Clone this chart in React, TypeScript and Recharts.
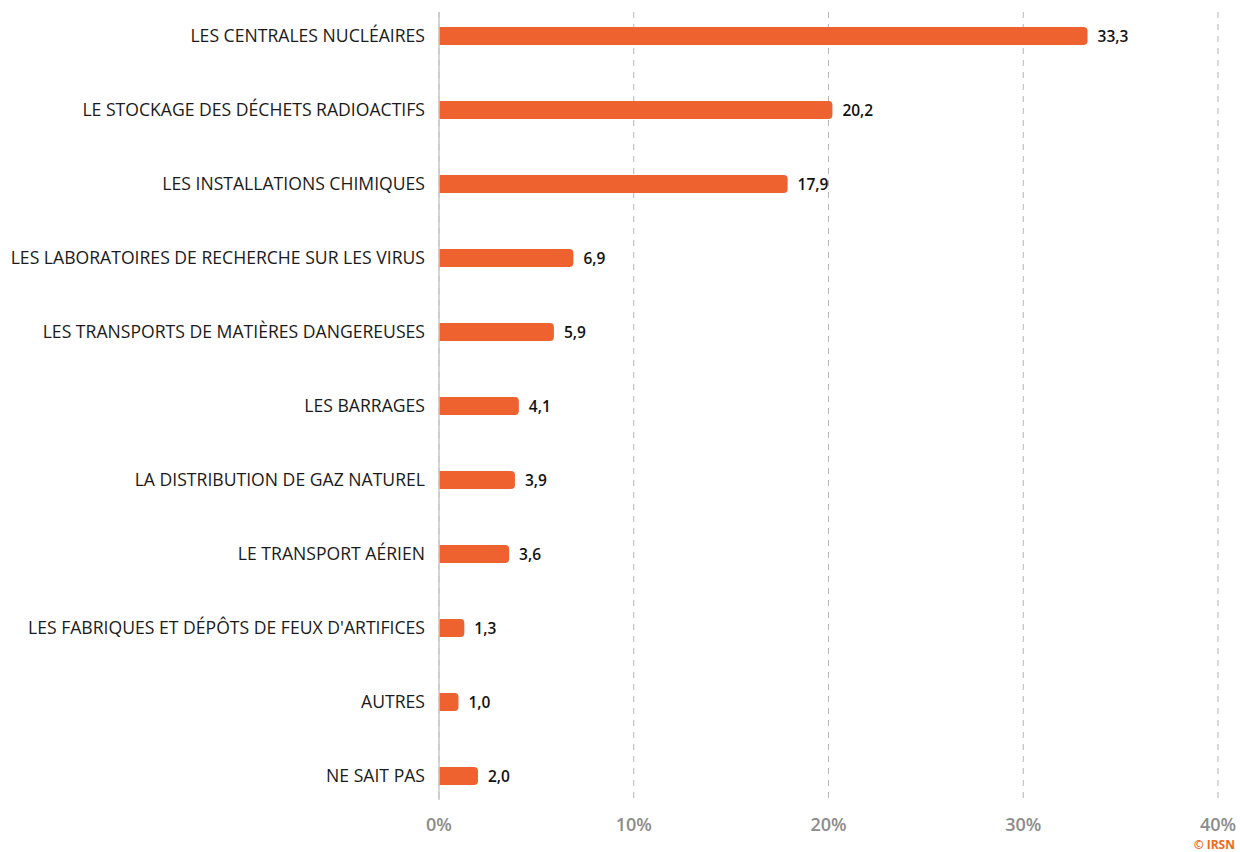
import React from "react";
import { BarChart, Bar, XAxis, YAxis, CartesianGrid, LabelList } from "recharts";

const categories = [
  "LES CENTRALES NUCLÉAIRES",
  "LE STOCKAGE DES DÉCHETS RADIOACTIFS",
  "LES INSTALLATIONS CHIMIQUES",
  "LES LABORATOIRES DE RECHERCHE SUR LES VIRUS",
  "LES TRANSPORTS DE MATIÈRES DANGEREUSES",
  "LES BARRAGES",
  "LA DISTRIBUTION DE GAZ NATUREL",
  "LE TRANSPORT AÉRIEN",
  "LES FABRIQUES ET DÉPÔTS DE FEUX D'ARTIFICES",
  "AUTRES",
  "NE SAIT PAS",
];
const values = [33.3, 20.2, 17.9, 6.9, 5.9, 4.1, 3.9, 3.6, 1.3, 1.0, 2.0];
const xTicks = [0, 10, 20, 30, 40];

const data = categories.map((c, i) => ({ name: c, value: values[i] }));

const FONT = "'Open Sans', 'Noto Sans', sans-serif";

export default function App() {
  return (
    <div style={{ position: "absolute", left: 0, top: 0, width: 1240, height: 852, background: "#fff", fontFamily: FONT, overflow: "hidden" }}>
      <BarChart
        width={1240}
        height={852}
        data={data}
        layout="vertical"
        margin={{ top: 12, right: 22, bottom: 22, left: 0 }}
      >
        <CartesianGrid horizontal={false} vertical={true} stroke="#b5b5b5" strokeDasharray="6 6" />
        <XAxis
          type="number"
          domain={[0, 40]}
          ticks={xTicks}
          tickFormatter={(v: number) => `${v}%`}
          axisLine={false}
          tickLine={false}
          tickMargin={12}
          height={30}
          tick={{ fill: "#8c8c8c", fontSize: 18, fontWeight: 600, fontFamily: FONT }}
        />
        <YAxis
          type="category"
          dataKey="name"
          width={439}
          axisLine={{ stroke: "#c8c8c8", strokeWidth: 1.5 }}
          tickLine={false}
          tickMargin={8}
          padding={{ top: -13, bottom: -13 }}
          interval={0}
          tick={{ fill: "#1a1a1a", fontSize: 17.6, fontFamily: FONT }}
        />
        <Bar dataKey="value" fill="#ee6230" barSize={18} radius={[0, 4, 4, 0]} isAnimationActive={false}>
          <LabelList
            dataKey="value"
            position="right"
            offset={10}
            formatter={(v: number) => v.toFixed(1).replace(".", ",")}
            style={{ fill: "#111", fontSize: 15.5, fontWeight: 600, fontFamily: FONT }}
          />
        </Bar>
      </BarChart>
      <div
        style={{
          position: "absolute",
          right: 5,
          top: 838,
          lineHeight: "14px",
          color: "#ee6a1e",
          fontSize: 12,
          fontWeight: 700,
          fontFamily: FONT,
          whiteSpace: "nowrap",
        }}
      >
        © IRSN
      </div>
    </div>
  );
}
